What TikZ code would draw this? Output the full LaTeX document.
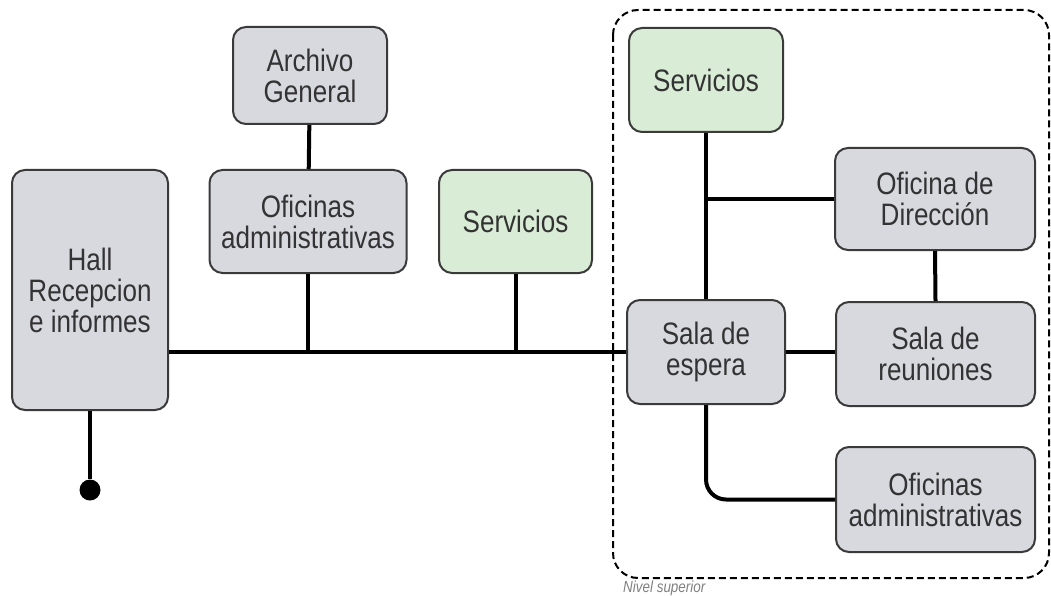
\documentclass[tikz,border=0pt]{standalone}
\usepackage{fontspec}
\setmainfont[FakeStretch=0.84]{Liberation Sans}
\definecolor{roomgray}{HTML}{D8D9DE}
\definecolor{roomgreen}{HTML}{D9ECD6}
\definecolor{edgegray}{HTML}{3A3A3A}
\definecolor{textgray}{HTML}{333333}
\tikzset{
  room/.style={draw=edgegray, line width=2pt, fill=roomgray, rounded corners=13pt,
    align=center, text=textgray, inner sep=0pt,
    font=\fontsize{31}{31}\selectfont},
  wetroom/.style={room, fill=roomgreen},
  link/.style={line width=4pt, black}
}
\begin{document}
\begin{tikzpicture}[x=1pt, y=-1pt]
\useasboundingbox (0,0) rectangle (1051,596);
% upper level frame
\draw[dashed, dash pattern=on 7pt off 4pt, line width=2pt, rounded corners=25pt]
  (613,10) rectangle (1049,578);
\node[anchor=north west, inner sep=1pt, text=gray, font=\itshape\fontsize{16}{16}\selectfont]
  (nivel) at (622,580) {Nivel superior};
% ground floor
\node[room, minimum width=156pt, minimum height=240pt] (hall) at (90,290) {Hall\\Recepcion\\ e informes};
\node[room, minimum width=154pt, minimum height=97pt] (archivo) at (310,75.5) {Archivo\\General};
\node[room, minimum width=197pt, minimum height=103pt] (ofadmA) at (308,221.5) {Oficinas\\administrativas};
\node[wetroom, minimum width=153pt, minimum height=103pt] (servA) at (515.5,221.5) {Servicios};
% upper floor
\node[wetroom, minimum width=154pt, minimum height=104pt] (servB) at (706,80) {Servicios};
\node[room, minimum width=200pt, minimum height=102pt] (direccion) at (935,199) {Oficina de\\Dirección};
\node[room, minimum width=158pt, minimum height=104pt] (espera) at (706,352) {Sala de\\espera};
\node[room, minimum width=199pt, minimum height=104pt] (reuniones) at (935.5,354) {Sala de\\reuniones};
\node[room, minimum width=199pt, minimum height=105pt] (ofadmB) at (935.5,499.5) {Oficinas\\administrativas};
\node[circle, fill=black, minimum size=21pt, inner sep=0pt] (entrada) at (90,490) {};
% connectors
\draw[link] (hall.east |- espera.west) -- (espera.west);
\draw[link] (archivo) -- (ofadmA);
\draw[link] (ofadmA.south) -- (ofadmA.south |- espera.west);
\draw[link] (servA.south) -- (servA.south |- espera.west);
\draw[link] (hall.south) -- (entrada);
\draw[link] (servB.south) -- (espera.north);
\draw[link] (servB.south |- direccion.west) -- (direccion.west);
\draw[link] (direccion.south) -- (reuniones.north);
\draw[link] (espera.east) -- (espera.east -| reuniones.west);
\draw[link, rounded corners=20pt] (espera.south) -- (espera.south |- ofadmB.west) -- (ofadmB.west);
\end{tikzpicture}
\end{document}
